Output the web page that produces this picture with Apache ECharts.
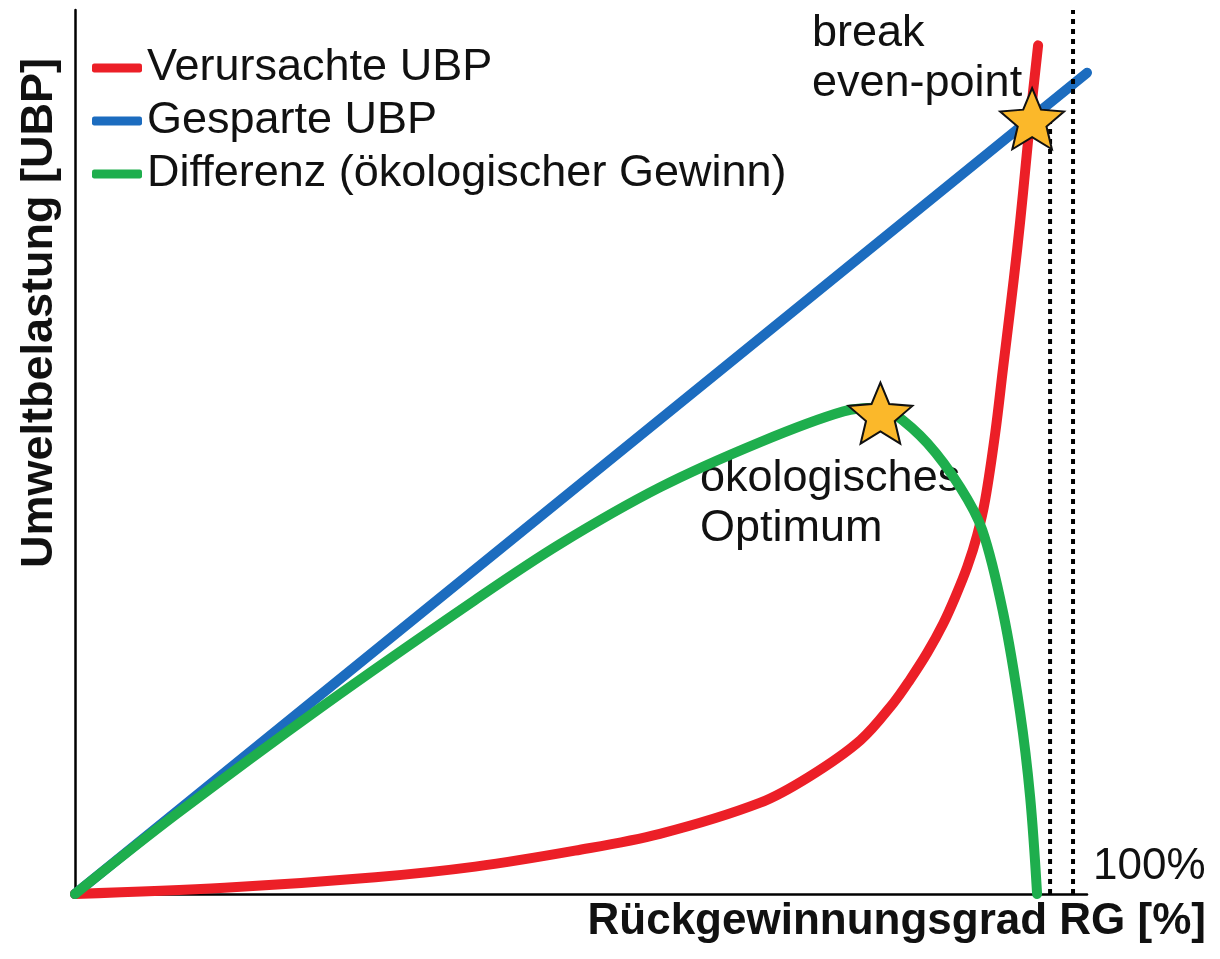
<!DOCTYPE html>
<html>
<head>
<meta charset="utf-8">
<script src="https://cdn.jsdelivr.net/npm/echarts@6/dist/echarts.min.js"></script>
<style>
  html, body { margin: 0; padding: 0; background: #fff; }
  #chart { width: 1220px; height: 959px; }
</style>
</head>
<body>
<div id="chart"></div>
<script>
// Rückgewinnungsgrad RG [%] vs. Umweltbelastung [UBP]
const redPoints = [
  [0, 0], [15, 0.7], [30.1, 1.9], [40.1, 3.1], [50.1, 4.9], [58.6, 6.8],
  [68.6, 10.3], [73.6, 13.3], [78.7, 17.4], [82.0, 21.6], [83.7, 24.3],
  [85.4, 27.3], [87.0, 30.6], [88.2, 33.6], [89.4, 37.0], [90.4, 40.6],
  [91.2, 44.6], [92.2, 52.1], [93.0, 59.6], [93.7, 66.1], [94.4, 72.9],
  [95.0, 79.4], [95.7, 87.6], [96.5, 96.0]
]
const bluePoints = [[0, 0], [101.4, 92.9]]
const greenPoints = [
  [0, 0], [10, 8.9], [25, 21.4], [40, 33.2], [48.6, 39.6], [58.6, 46.0],
  [68.6, 51.1], [77.0, 54.6], [80.5, 55.0], [82.0, 54.4], [85.4, 51.0],
  [88.7, 46.0], [90.9, 41.2], [93.0, 31.8], [94.7, 20.5], [95.7, 11.0],
  [96.4, 0]
]
const breakEvenLine = [[97.7, 0], [97.7, 88]]
const fullLine = [[100, 0], [100, 100]]
const optimumStar = [[80.7, 54.4]]
const breakEvenStar = [[95.9, 87.7]]

const NAMES = ['Verursachte UBP', 'Gesparte UBP', 'Differenz (ökologischer Gewinn)']
const RED = '#ec1f27', BLUE = '#1c6cbf', GREEN = '#1eae4d'
const FONT = "'Liberation Sans', Arial, sans-serif"
const STAR = 'path://M50,0 L63.23,31.8 L97.55,34.55 L71.4,56.95 L79.39,90.45 L50,72.5 L20.61,90.45 L28.6,56.95 L2.45,34.55 L36.77,31.8 Z'

function curve(name, data, color) {
  return {
    name, type: 'line', data, showSymbol: false, smooth: 0.35,
    lineStyle: { color, width: 10, cap: 'round', join: 'round' },
    itemStyle: { color },
  }
}
function dotted(data) {
  return {
    type: 'line', data, showSymbol: false, silent: true,
    lineStyle: { color: '#000', width: 4, type: [5, 5] },
  }
}
function star(data) {
  return {
    type: 'scatter', data, symbol: STAR, symbolSize: [64, 61], z: 5,
    itemStyle: { color: '#fbb82a', opacity: 1, borderColor: '#111', borderWidth: 2 },
  }
}

const chart = echarts.init(document.getElementById('chart'), null, { renderer: 'canvas' })
chart.setOption({
  animation: false,
  textStyle: { fontFamily: FONT },
  grid: { left: 75, right: 133, top: 10, bottom: 65 },
  legend: {
    data: NAMES, orient: 'vertical', left: 87, top: 38,
    itemWidth: 50, itemHeight: 9, itemGap: 3, icon: 'roundRect',
    textStyle: { fontSize: 45, lineHeight: 50, color: '#111', fontFamily: FONT },
  },
  xAxis: {
    type: 'value', min: 0, max: 101.4,
    axisLine: { lineStyle: { color: '#000', width: 2.5 } },
    axisTick: { show: false }, axisLabel: { show: false }, splitLine: { show: false },
  },
  yAxis: {
    type: 'value', min: 0, max: 100,
    axisLine: { show: true, lineStyle: { color: '#000', width: 2.5 } },
    axisTick: { show: false }, axisLabel: { show: false }, splitLine: { show: false },
  },
  series: [
    curve(NAMES[1], bluePoints, BLUE),
    curve(NAMES[0], redPoints, RED),
    curve(NAMES[2], greenPoints, GREEN),
    dotted(breakEvenLine),
    dotted(fullLine),
    star(optimumStar),
    star(breakEvenStar),
  ],
  graphic: [
    { type: 'text', x: 40, y: 313, rotation: Math.PI / 2,
      style: { text: 'Umweltbelastung [UBP]', font: 'bold 45px ' + FONT, fill: '#111',
        textAlign: 'center', textVerticalAlign: 'middle' } },
    { type: 'text', x: 1206, y: 922,
      style: { text: 'Rückgewinnungsgrad RG [%]', font: 'bold 44px ' + FONT, fill: '#111',
        textAlign: 'right', textVerticalAlign: 'middle' } },
    { type: 'text', x: 1093, y: 867,
      style: { text: '100%', font: '44px ' + FONT, fill: '#111', textVerticalAlign: 'middle' } },
    { type: 'text', x: 812, y: 9,
      style: { text: 'break\neven-point', font: '45px ' + FONT, lineHeight: 50, fill: '#111' } },
    { type: 'text', x: 700, y: 454,
      style: { text: 'ökologisches\nOptimum', font: '45px ' + FONT, lineHeight: 50, fill: '#111' } },
  ],
})
window.addEventListener('resize', () => chart.resize())
</script>
</body>
</html>
